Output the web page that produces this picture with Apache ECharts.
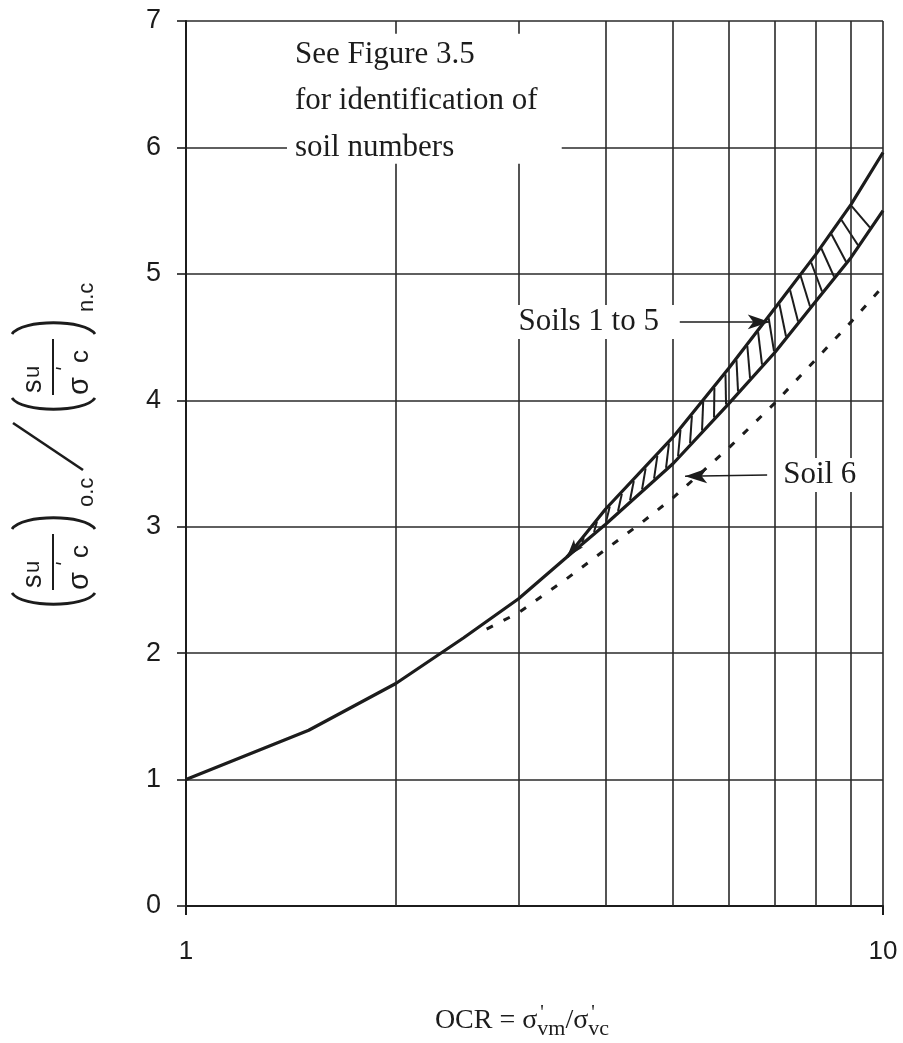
<!DOCTYPE html>
<html>
<head>
<meta charset="utf-8">
<script src="https://cdn.jsdelivr.net/npm/echarts@6/dist/echarts.min.js"></script>
<style>
  html, body { margin: 0; padding: 0; background: #fff; }
  #chart { width: 903px; height: 1043px; }
</style>
</head>
<body>
<div id="chart"></div>
<script>
// OCR values and strength ratios (s_u/σ'c)oc / (s_u/σ'c)nc
// Common curve, continuing as the lower boundary of the soils 1-5 band
const ocrLower = [1, 1.5, 2, 2.5, 3, 3.52, 4, 5, 6, 7, 8, 9, 10];
const ratioLower = [1.0, 1.39, 1.76, 2.12, 2.43, 2.76, 3.02, 3.50, 3.97, 4.38, 4.78, 5.13, 5.50];
// Upper boundary of the soils 1-5 band
const ocrUpper = [3.52, 4, 5, 6, 7, 8, 9, 10];
const ratioUpper = [2.76, 3.14, 3.71, 4.25, 4.73, 5.15, 5.55, 5.96];
// Soil 6
const ocrSoil6 = [2.7, 3, 3.5, 4, 4.5, 5, 6, 7, 8, 9, 10];
const ratioSoil6 = [2.19, 2.32, 2.58, 2.82, 3.03, 3.23, 3.62, 3.98, 4.32, 4.62, 4.90];
// Intermediate log-cycle grid lines
const ocrGridLines = [2, 3, 4, 5, 6, 7, 8, 9];
// Axis ranges
const xRange = [1, 10];
const yRange = [0, 7];

const INK = '#1c1c1c';
const GRID_INK = '#2a2a2a';
const SERIF = '"Liberation Serif", "Times New Roman", serif';
const SANS = '"Liberation Sans", "DejaVu Sans", sans-serif';

const chart = echarts.init(document.getElementById('chart'), null, { renderer: 'canvas' });

const zip = (xs, ys) => xs.map((x, i) => [x, ys[i]]);

const upperData = zip(ocrUpper, ratioUpper).map((p, i) => i === 0
  ? { value: p, symbol: 'arrow', symbolSize: [9, 18], symbolRotate: 140 }
  : { value: p, symbol: 'none' });

// Hatching between the two boundaries of the soils 1-5 band
function renderHatch(params, api) {
  const start = ocrLower.indexOf(ocrUpper[0]);
  const lowPts = ocrLower.slice(start).map((x, i) => api.coord([x, ratioLower[start + i]]));
  const upPts = ocrUpper.map((x, i) => api.coord([x, ratioUpper[i]]));
  const yAt = (pts, px) => {
    for (let i = 0; i < pts.length - 1; i++) {
      const a = pts[i], b = pts[i + 1];
      if (px >= a[0] && px <= b[0]) {
        return a[1] + (b[1] - a[1]) * (px - a[0]) / (b[0] - a[0]);
      }
    }
    return null;
  };
  const x0 = api.coord([3.7, 0])[0];
  const x1 = api.coord([9.85, 0])[0];
  const step = 12;
  const children = [];
  for (let px = x0; px <= x1; px += step) {
    const t = (px - x0) / (x1 - x0);
    const yl = yAt(lowPts, px);
    const yu0 = yAt(upPts, px);
    if (yl == null || yu0 == null) continue;
    const gap = yl - yu0;
    const shift = (-0.3 + 0.65 * t) * gap;   // lean of each hatch stroke
    const ux = px - shift;
    const yu = yAt(upPts, ux);
    if (yu == null) continue;
    children.push({
      type: 'line',
      shape: { x1: px, y1: yl - 2, x2: ux, y2: yu + 2 },
      style: { stroke: INK, lineWidth: 2 }
    });
  }
  return { type: 'group', children };
}

chart.setOption({
  animation: false,
  backgroundColor: '#fff',
  grid: { left: 186, right: 20, top: 21, bottom: 137, containLabel: false },
  xAxis: {
    type: 'log',
    logBase: 10,
    min: xRange[0],
    max: xRange[1],
    axisLine: { show: true, onZero: false, lineStyle: { color: INK, width: 2 } },
    axisTick: { show: true, length: 9, lineStyle: { color: INK, width: 2 } },
    axisLabel: { fontFamily: SANS, fontSize: 26, color: INK, margin: 33 },
    splitLine: { show: true, lineStyle: { color: GRID_INK, width: 1.6 } },
    minorTick: { show: false },
    minorSplitLine: { show: false }
  },
  yAxis: {
    type: 'value',
    min: yRange[0],
    max: yRange[1],
    interval: 1,
    axisLine: { show: true, lineStyle: { color: INK, width: 2 } },
    axisTick: { show: true, length: 9, lineStyle: { color: INK, width: 1.6 } },
    axisLabel: { fontFamily: SANS, fontSize: 27, color: INK, margin: 25 },
    splitLine: { show: true, lineStyle: { color: GRID_INK, width: 1.6 } }
  },
  series: [
    {
      name: 'lower',
      type: 'line',
      data: zip(ocrLower, ratioLower),
      symbol: 'none',
      lineStyle: { color: INK, width: 3.2 },
      z: 5,
      markLine: {
        silent: true,
        symbol: 'none',
        animation: false,
        label: { show: false },
        lineStyle: { color: GRID_INK, width: 1.6, type: 'solid' },
        data: ocrGridLines.map(v => ({ xAxis: v }))
      }
    },
    {
      name: 'upper',
      type: 'line',
      data: upperData,
      symbol: 'arrow',
      showSymbol: true,
      itemStyle: { color: INK },
      lineStyle: { color: INK, width: 3.2 },
      z: 5
    },
    {
      name: 'soil6',
      type: 'line',
      data: zip(ocrSoil6, ratioSoil6),
      symbol: 'none',
      lineStyle: { color: INK, width: 3, type: [7, 12], cap: 'butt' },
      z: 5,
      markLine: {
        silent: true,
        animation: false,
        symbol: ['none', 'arrow'],
        symbolSize: [11, 22],
        label: { show: false },
        lineStyle: { color: INK, width: 1.5, type: 'solid' },
        data: [
          [{ coord: [5.11, 4.62] }, { coord: [6.88, 4.62] }],
          [{ coord: [6.82, 3.41] }, { coord: [5.2, 3.40] }]
        ]
      }
    },
    {
      name: 'hatch',
      type: 'custom',
      coordinateSystem: 'cartesian2d',
      data: [[ocrUpper[0], ratioUpper[0]]],
      renderItem: renderHatch,
      silent: true,
      z: 4
    }
  ]
});

// ---- annotations, placed in data coordinates ----
const toPx = (p) => chart.convertToPixel({ gridIndex: 0 }, p);

const graphics = [];

// note box with white background
const boxA = toPx([1.396, 6.90]);
const boxB = toPx([3.46, 5.87]);
graphics.push({
  type: 'rect', z: 100,
  shape: { x: boxA[0], y: boxA[1], width: boxB[0] - boxA[0], height: boxB[1] - boxA[1] },
  style: { fill: '#fff' }
});
const noteLines = ['See Figure 3.5', 'for identification of', 'soil numbers'];
const noteYs = [6.73, 6.37, 6.0];
noteLines.forEach((t, i) => {
  const p = toPx([1.433, noteYs[i]]);
  graphics.push({
    type: 'text', z: 101,
    style: { x: p[0], y: p[1], text: t, font: '31px ' + SERIF, fill: INK,
             textAlign: 'left', textVerticalAlign: 'middle' }
  });
});

// series labels
[['Soils 1 to 5', [3.0, 4.62]], ['Soil 6', [7.19, 3.41]]].forEach(([t, c]) => {
  const p = toPx(c);
  graphics.push({
    type: 'rect', z: 100,
    shape: { x: p[0] - 3, y: p[1] - 17, width: t.length * 13 + 4, height: 34 },
    style: { fill: '#fff' }
  });
  graphics.push({
    type: 'text', z: 101,
    style: { x: p[0], y: p[1], text: t, font: '31px ' + SERIF, fill: INK,
             textAlign: 'left', textVerticalAlign: 'middle' }
  });
});

// x-axis title: OCR = σ'vm/σ'vc
const mctx = document.createElement('canvas').getContext('2d');
const measure = (t, f) => { mctx.font = f; return mctx.measureText(t).width; };
const mainF = '28px ' + SERIF, subF = '22px ' + SERIF, primeF = '20px ' + SERIF;
const titlePieces = [
  { t: 'OCR = σ', f: mainF, y: 1021, adv: true },
  { t: "'", f: primeF, y: 1014, adv: false, dx: 3 },
  { t: 'vm', f: subF, y: 1029, adv: true },
  { t: '/σ', f: mainF, y: 1021, adv: true },
  { t: "'", f: primeF, y: 1014, adv: false, dx: 3 },
  { t: 'vc', f: subF, y: 1029, adv: true }
];
const totalW = titlePieces.reduce((s, p) => s + (p.adv ? measure(p.t, p.f) : 0), 0);
let cx = 522 - totalW / 2;
titlePieces.forEach(p => {
  graphics.push({
    type: 'text',
    style: { x: cx + (p.dx || 0), y: p.y, text: p.t, font: p.f, fill: INK,
             textAlign: 'left', textVerticalAlign: 'middle' }
  });
  if (p.adv) cx += measure(p.t, p.f);
});

// y-axis title: (s_u/σ'c)o.c / (s_u/σ'c)n.c, drawn in a rotated frame
function ratioBlock(x0, subText) {
  const st = { stroke: INK, lineWidth: 2.8, fill: null };
  return [
    { type: 'bezierCurve', shape: { x1: x0 + 12, y1: 12, x2: x0 + 12, y2: 95, cpx1: x0 - 3, cpy1: 22, cpx2: x0 - 3, cpy2: 85 }, style: st },
    { type: 'bezierCurve', shape: { x1: x0 + 76, y1: 12, x2: x0 + 76, y2: 95, cpx1: x0 + 91, cpy1: 22, cpx2: x0 + 91, cpy2: 85 }, style: st },
    { type: 'line', shape: { x1: x0 + 15, y1: 53, x2: x0 + 71, y2: 53 }, style: { stroke: INK, lineWidth: 2 } },
    { type: 'text', style: { x: x0 + 17, y: 34, text: 's', font: '27px ' + SANS, fill: INK, textVerticalAlign: 'middle' } },
    { type: 'text', style: { x: x0 + 32, y: 33, text: 'u', font: '22px ' + SANS, fill: INK, textVerticalAlign: 'middle' } },
    { type: 'line', shape: { x1: x0 + 42, y1: 56, x2: x0 + 41, y2: 61 }, style: { stroke: INK, lineWidth: 1.6 } },
    { type: 'text', style: { x: x0 + 15, y: 80, text: 'σ', font: '29px ' + SANS, fill: INK, textVerticalAlign: 'middle' } },
    { type: 'text', style: { x: x0 + 47, y: 81, text: 'c', font: '26px ' + SANS, fill: INK, textVerticalAlign: 'middle' } },
    { type: 'text', style: { x: x0 + 98, y: 87, text: subText, font: '22px ' + SANS, fill: INK, textVerticalAlign: 'middle' } }
  ];
}
graphics.push({
  type: 'group',
  x: 0, y: 605,
  rotation: Math.PI / 2,
  children: [
    ...ratioBlock(0, 'o.c'),
    { type: 'line', shape: { x1: 135, y1: 83, x2: 182, y2: 13 }, style: { stroke: INK, lineWidth: 2.6 } },
    ...ratioBlock(195, 'n.c')
  ]
});

chart.setOption({ graphic: graphics });
</script>
</body>
</html>
